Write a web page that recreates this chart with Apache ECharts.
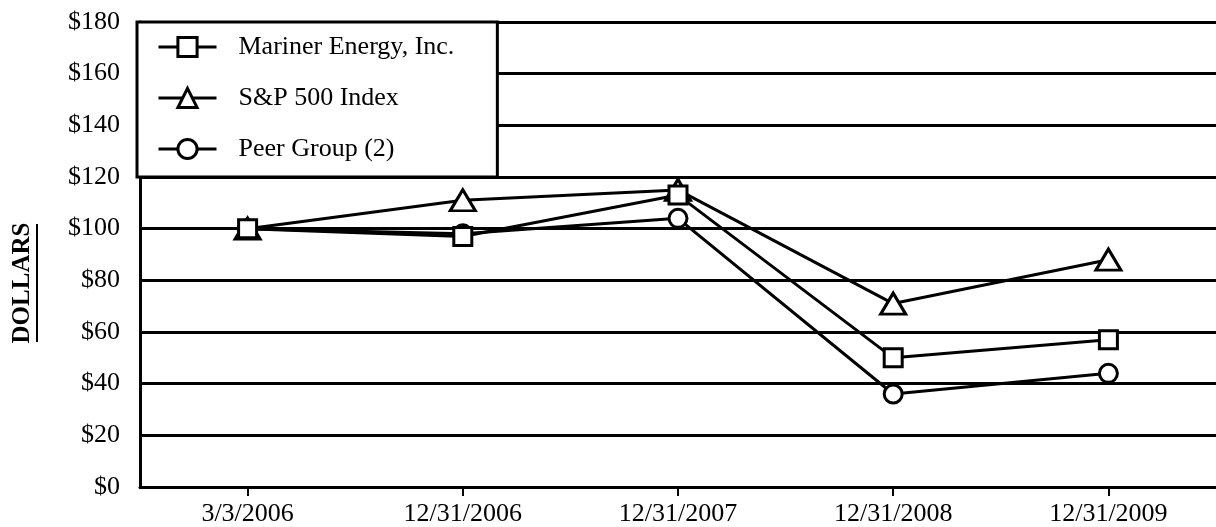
<!DOCTYPE html>
<html>
<head>
<meta charset="utf-8">
<script src="https://cdn.jsdelivr.net/npm/echarts@6/dist/echarts.min.js"></script>
<style>
  html, body { margin: 0; padding: 0; background: #fff; }
  #chart { width: 1216px; height: 527px; }
</style>
</head>
<body>
<div id="chart"></div>
<script>
// values
const categories = ['3/3/2006', '12/31/2006', '12/31/2007', '12/31/2008', '12/31/2009'];
const mariner = [100, 97, 113, 50, 57];
const sp500 = [100, 111, 115, 71, 88];
const peer = [100, 98, 104, 36, 44];

const serif = '"Liberation Serif", "DejaVu Serif", serif';
const chart = echarts.init(document.getElementById('chart'));

function lineSeries(name, data, symbol, size) {
  return {
    name: name,
    type: 'line',
    data: data,
    symbol: symbol,
    symbolSize: size,
    showAllSymbol: true,
    lineStyle: { color: '#000', width: 3 },
    itemStyle: { color: '#fff', borderColor: '#000', borderWidth: 3 },
    emphasis: { disabled: true },
    animation: false
  };
}

chart.setOption({
  animation: false,
  grid: { left: 140, top: 22, width: 1090, height: 466 },
  legend: {
    data: ['Mariner Energy, Inc.', 'S&P 500 Index', 'Peer Group (2)'],
    orient: 'vertical',
    left: 137,
    top: 22,
    padding: [10, 43, 13, 20],
    itemWidth: 58,
    itemHeight: 24,
    itemGap: 21,
    backgroundColor: '#fff',
    borderColor: '#000',
    borderWidth: 3,
    borderRadius: 0,
    lineStyle: { width: 3 },
    itemStyle: { borderWidth: 3 },
    textStyle: { fontFamily: serif, fontSize: 26, color: '#000', lineHeight: 30, padding: [0, 0, 0, 17] }
  },
  xAxis: {
    type: 'category',
    data: categories,
    boundaryGap: true,
    axisLine: { lineStyle: { color: '#000', width: 3 } },
    axisTick: { show: true, alignWithLabel: true, length: 9, lineStyle: { color: '#000', width: 2 } },
    axisLabel: { fontFamily: serif, fontSize: 26, color: '#000', margin: 14 },
    splitLine: { show: false }
  },
  yAxis: {
    type: 'value',
    min: 0,
    max: 180,
    interval: 20,
    axisLine: { show: true, lineStyle: { color: '#000', width: 3 } },
    axisTick: { show: false },
    axisLabel: { fontFamily: serif, fontSize: 26, color: '#000', margin: 20, formatter: '${value}' },
    splitLine: { lineStyle: { color: '#000', width: 3 } }
  },
  graphic: [
    {
      type: 'text',
      x: 23,
      y: 283,
      rotation: Math.PI / 2,
      style: {
        text: 'DOLLARS',
        font: 'bold 25px ' + serif,
        fill: '#000',
        align: 'center',
        verticalAlign: 'middle'
      }
    },
    {
      type: 'line',
      shape: { x1: 37, y1: 224, x2: 37, y2: 342 },
      style: { stroke: '#000', lineWidth: 2 }
    }
  ],
  series: [
    lineSeries('Peer Group (2)', peer, 'circle', 18),
    lineSeries('S&P 500 Index', sp500, 'triangle', [25, 21]),
    lineSeries('Mariner Energy, Inc.', mariner, 'rect', 18)
  ]
});
</script>
</body>
</html>
